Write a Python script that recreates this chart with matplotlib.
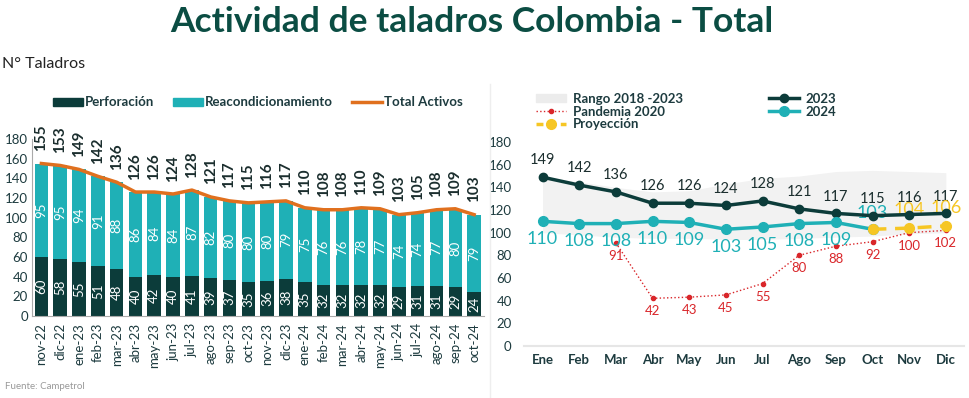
import numpy as np
import matplotlib
matplotlib.use('Agg')
import matplotlib.pyplot as plt
from matplotlib.patches import Patch
from matplotlib.lines import Line2D

plt.rcParams['font.family'] = ['Lato', 'DejaVu Sans']

# datos mensuales (izquierda)
meses = ['nov-22', 'dic-22', 'ene-23', 'feb-23', 'mar-23', 'abr-23', 'may-23', 'jun-23',
         'jul-23', 'ago-23', 'sep-23', 'oct-23', 'nov-23', 'dic-23', 'ene-24', 'feb-24',
         'mar-24', 'abr-24', 'may-24', 'jun-24', 'jul-24', 'ago-24', 'sep-24', 'oct-24']
perforacion = [60, 58, 55, 51, 48, 40, 42, 40, 41, 39, 37, 35, 36, 38, 35, 32, 32, 32, 32, 29, 31, 31, 29, 24]
reacond = [95, 95, 94, 91, 88, 86, 84, 84, 87, 82, 80, 80, 80, 79, 75, 76, 76, 78, 77, 74, 74, 77, 80, 79]
total_activos = [155, 153, 149, 142, 136, 126, 126, 124, 128, 121, 117, 115, 116, 117, 110, 108, 108, 110,
                 109, 103, 105, 108, 109, 103]

# comparativo anual (derecha)
mes_corto = ['Ene', 'Feb', 'Mar', 'Abr', 'May', 'Jun', 'Jul', 'Ago', 'Sep', 'Oct', 'Nov', 'Dic']
y2023 = [149, 142, 136, 126, 126, 124, 128, 121, 117, 115, 116, 117]
y2024 = [110, 108, 108, 110, 109, 103, 105, 108, 109, 103]
proy_idx = [9, 10, 11]
proyeccion = [103, 104, 106]
pand_idx = [2, 3, 4, 5, 6, 7, 8, 9, 10, 11]
pandemia = [91, 42, 43, 45, 55, 80, 88, 92, 100, 102]
rango_max = [149, 145, 140, 136, 137, 143, 148, 150, 154, 155, 154, 153]
rango_min = [100, 98, 96, 95, 95, 94, 94, 95, 96, 97, 99, 100]

OSCURO = '#0c3c3a'
CIAN = '#1fb0b6'
NARANJA = '#e0701e'
AMARILLO = '#f6c624'
ROJO = '#d9262a'
TXT = '#1d3b3f'

fig = plt.figure(figsize=(9.69, 3.98), dpi=100)
fig.text(0.487, 0.945, 'Actividad de taladros Colombia - Total', ha='center', va='center',
         fontsize=25.5, fontweight='bold', color='#0b4d43')
fig.text(0.002, 0.838, 'N° Taladros', ha='left', va='center', fontsize=11.5, color='#222222')
fig.text(0.005, 0.03, 'Fuente: Campetrol', ha='left', va='center', fontsize=7, color='#999999')

# ---- izquierda: barras apiladas ----
ax = fig.add_axes([0.033, 0.206, 0.466, 0.445])
x = np.arange(len(meses))
ax.bar(x, perforacion, width=0.72, color=OSCURO, zorder=2)
ax.bar(x, reacond, width=0.72, bottom=perforacion, color=CIAN, zorder=2)
ax.plot(x, total_activos, color=NARANJA, lw=2.5, zorder=3)
for i in range(len(x)):
    ax.text(x[i], perforacion[i] / 2, str(perforacion[i]), rotation=90, ha='center', va='center',
            color='white', fontsize=9.5)
    ax.text(x[i], perforacion[i] + reacond[i] / 2, str(reacond[i]), rotation=90, ha='center',
            va='center', color='white', fontsize=9.5)
    ax.annotate(str(total_activos[i]), (x[i], total_activos[i]), xytext=(0, 9),
                textcoords='offset points', rotation=90, ha='center', va='bottom',
                fontsize=11, fontweight='bold', color='#1b2e2e')
ax.set_xlim(-0.5, len(meses) - 0.5)
ax.set_ylim(0, 180)
ax.set_yticks(range(0, 181, 20))
ax.set_xticks(x)
ax.set_xticklabels(meses, rotation=90)
ax.tick_params(axis='both', length=0, colors=TXT, labelsize=9.5)
ax.tick_params(axis='y', pad=3)
ax.tick_params(axis='x', pad=5)
for s in ['top', 'right']:
    ax.spines[s].set_visible(False)
for s in ['left', 'bottom']:
    ax.spines[s].set_color('#aaaaaa')
hand = [Patch(color=OSCURO), Patch(color=CIAN), Line2D([], [], color=NARANJA, lw=2.5)]
leg = ax.legend(hand, ['Perforación', 'Reacondicionamiento', 'Total Activos'], ncol=3,
                loc='lower center', bbox_to_anchor=(0.5, 1.105), frameon=False, fontsize=9.5,
                handlelength=2.3, handleheight=0.6, columnspacing=1.4, handletextpad=0.15)
for t in leg.get_texts():
    t.set_fontweight('bold')
    t.set_color(TXT)

# separador
fig.add_artist(Line2D([0.506, 0.506], [0.0, 0.79], color='#eeeeee', lw=1))

# ---- derecha: lineas ----
ax2 = fig.add_axes([0.541, 0.131, 0.454, 0.512])
xm = np.arange(12)
ax2.fill_between(xm, rango_min, rango_max, color='#f2f2f2', lw=0, zorder=1)
ax2.plot(xm, y2023, color=OSCURO, lw=2.5, marker='o', ms=6, zorder=4)
ax2.plot(xm[:len(y2024)], y2024, color=CIAN, lw=2.5, marker='o', ms=7, zorder=4)
ax2.plot(proy_idx, proyeccion, color=AMARILLO, lw=2.5, ls='--', dashes=(4, 2.5), marker='o', ms=7,
         zorder=5)
ax2.plot(pand_idx, pandemia, color=ROJO, lw=1, ls=':', marker='o', ms=3, zorder=3)

for i, v in enumerate(y2023):
    ax2.annotate(str(v), (i, v), xytext=(0, 7), textcoords='offset points', ha='center',
                 va='bottom', fontsize=10.5, color='#1b2e2e')
for i, v in enumerate(y2024):
    if i == len(y2024) - 1:
        ax2.annotate(str(v), (i, v), xytext=(0, 12), textcoords='offset points', ha='center',
                     va='center', fontsize=13, color=CIAN)
    else:
        ax2.annotate(str(v), (i, v), xytext=(0, -7), textcoords='offset points', ha='center',
                     va='top', fontsize=13, color=CIAN)
for i, v in zip(proy_idx[1:], proyeccion[1:]):
    ax2.annotate(str(v), (i, v), xytext=(0, 13), textcoords='offset points', ha='center',
                 va='center', fontsize=13, color=AMARILLO)
for i, v in zip(pand_idx, pandemia):
    ax2.annotate(str(v), (i, v), xytext=(0, -5), textcoords='offset points', ha='center',
                 va='top', fontsize=9.5, color=ROJO)

ax2.set_xlim(-0.5, 11.5)
ax2.set_ylim(0, 180)
ax2.set_yticks(range(0, 181, 20))
ax2.set_xticks(xm)
ax2.set_xticklabels(mes_corto, fontweight='bold')
ax2.tick_params(axis='both', length=0, colors=TXT, labelsize=9.5)
ax2.tick_params(axis='y', pad=9)
ax2.tick_params(axis='x', pad=6)
for s in ['top', 'right', 'left']:
    ax2.spines[s].set_visible(False)
ax2.spines['bottom'].set_color('#e6e6e6')
ax2.spines['bottom'].set_linewidth(1.5)

hand2 = [Patch(color='#ececec'),
         Line2D([], [], color=ROJO, lw=1, ls=':', marker='o', ms=3),
         Line2D([], [], color=AMARILLO, lw=2.5, ls='--', dashes=(2, 1.5), marker='o', ms=7),
         Line2D([], [], color=OSCURO, lw=2.5, marker='o', ms=6),
         Line2D([], [], color=CIAN, lw=2.5, marker='o', ms=7)]
leg2 = ax2.legend(hand2, ['Rango 2018 -2023', 'Pandemia 2020', 'Proyección', '2023', '2024'], ncol=2,
                  loc='lower left', bbox_to_anchor=(0.0, 1.0), frameon=False, fontsize=9.5,
                  handlelength=2.3, handleheight=0.6, columnspacing=6.5, handletextpad=0.5,
                  labelspacing=0.05)
for t in leg2.get_texts():
    t.set_fontweight('bold')
    t.set_color(TXT)

fig.savefig('out.png', dpi=100)
